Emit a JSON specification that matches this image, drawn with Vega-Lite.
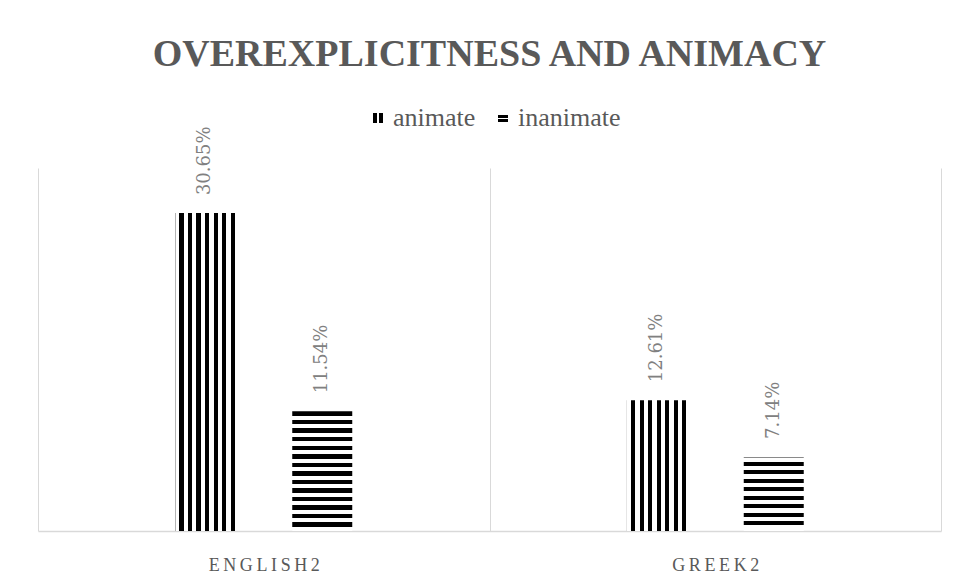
{
  "$schema": "https://vega.github.io/schema/vega-lite/v6.json",
  "width": 903,
  "height": 363,
  "autosize": {"type": "none"},
  "padding": {"left": 38, "top": 168, "right": 18, "bottom": 50},
  "background": "white",
  "config": {
    "view": {"stroke": null},
    "font": "Liberation Serif",
    "legend": {
      "title": null,
      "orient": "none",
      "direction": "horizontal",
      "symbolType": "square",
      "symbolSize": 100,
      "symbolStrokeWidth": 0,
      "labelFont": "Liberation Serif",
      "labelFontSize": 26,
      "labelColor": "#595959",
      "labelOffset": 2,
      "columnPadding": 14
    }
  },
  "title": {
    "text": "OVEREXPLICITNESS AND ANIMACY",
    "anchor": "middle",
    "frame": "group",
    "font": "Liberation Serif",
    "fontSize": 38,
    "fontWeight": "bold",
    "color": "#595959",
    "baseline": "alphabetic",
    "offset": 1
  },
  "data": {
    "values": [
      {"group": "English2", "type": "animate", "share": 0.3065},
      {"group": "English2", "type": "inanimate", "share": 0.1154},
      {"group": "Greek2", "type": "animate", "share": 0.1261},
      {"group": "Greek2", "type": "inanimate", "share": 0.0714}
    ]
  },
  "encoding": {
    "x": {
      "field": "group",
      "type": "nominal",
      "scale": {"domain": ["English2", "Greek2"], "paddingInner": 0, "paddingOuter": 0},
      "axis": {
        "title": null,
        "labelExpr": "join(split(upper(datum.label), ''), '\u2009')",
        "labelAngle": 0,
        "labelFont": "Liberation Serif",
        "labelFontSize": 18,
        "labelColor": "#595959",
        "labelPadding": 25,
        "ticks": false,
        "tickBand": "extent",
        "grid": true,
        "gridColor": "#d9d9d9",
        "gridWidth": 1,
        "domainColor": "#d9d9d9",
        "domainWidth": 1.5
      }
    },
    "xOffset": {
      "field": "type",
      "type": "nominal",
      "scale": {"domain": ["animate", "inanimate"], "paddingInner": 0.141, "paddingOuter": 1}
    },
    "y": {
      "field": "share",
      "type": "quantitative",
      "scale": {"domain": [0, 0.35]},
      "axis": null
    }
  },
  "layer": [
    {
      "transform": [{"filter": "datum.type === 'animate'"}],
      "mark": {"type": "bar", "width": 60},
      "encoding": {
        "fill": {
          "condition": {
            "test": "datum.group",
            "value": {
              "gradient": "linear", "x1": 0, "y1": 0, "x2": 1, "y2": 0,
              "stops": [
                {"offset": 0, "color": "#9a9a9a"}, {"offset": 0.012, "color": "#9a9a9a"},
                {"offset": 0.012, "color": "white"}, {"offset": 0.0667, "color": "white"},
                {"offset": 0.0667, "color": "black"}, {"offset": 0.1383, "color": "black"},
                {"offset": 0.1383, "color": "white"}, {"offset": 0.2167, "color": "white"},
                {"offset": 0.2167, "color": "black"}, {"offset": 0.2833, "color": "black"},
                {"offset": 0.2833, "color": "white"}, {"offset": 0.35, "color": "white"},
                {"offset": 0.35, "color": "black"}, {"offset": 0.4217, "color": "black"},
                {"offset": 0.4217, "color": "white"}, {"offset": 0.5, "color": "white"},
                {"offset": 0.5, "color": "black"}, {"offset": 0.5667, "color": "black"},
                {"offset": 0.5667, "color": "white"}, {"offset": 0.6383, "color": "white"},
                {"offset": 0.6383, "color": "black"}, {"offset": 0.705, "color": "black"},
                {"offset": 0.705, "color": "white"}, {"offset": 0.7833, "color": "white"},
                {"offset": 0.7833, "color": "black"}, {"offset": 0.85, "color": "black"},
                {"offset": 0.85, "color": "white"}, {"offset": 0.9217, "color": "white"},
                {"offset": 0.9217, "color": "black"}, {"offset": 0.9883, "color": "black"},
                {"offset": 0.9883, "color": "white"}, {"offset": 1, "color": "white"}
              ]
            }
          },
          "value": {
            "expr": "datum.value === 'inanimate' ? {gradient: 'linear', x1: 0, y1: 0, x2: 0, y2: 1, stops: [{offset: 0, color: 'white'}, {offset: 0.2, color: 'white'}, {offset: 0.2, color: 'black'}, {offset: 0.48, color: 'black'}, {offset: 0.48, color: 'white'}, {offset: 0.62, color: 'white'}, {offset: 0.62, color: 'black'}, {offset: 0.9, color: 'black'}, {offset: 0.9, color: 'white'}, {offset: 1, color: 'white'}]} : {gradient: 'linear', x1: 0, y1: 0, x2: 1, y2: 0, stops: [{offset: 0, color: 'black'}, {offset: 0.38, color: 'black'}, {offset: 0.38, color: 'white'}, {offset: 0.62, color: 'white'}, {offset: 0.62, color: 'black'}, {offset: 1, color: 'black'}]}"
          }
        },
        "opacity": {
          "field": "type",
          "type": "nominal",
          "scale": {"domain": ["animate", "inanimate"], "range": [1, 1]},
          "legend": {"legendX": 327, "legendY": -63}
        }
      }
    },
    {
      "transform": [{"filter": "datum.type === 'inanimate' && datum.group === 'English2'"}],
      "mark": {
        "type": "bar",
        "width": 60,
        "fill": {
          "gradient": "linear", "x1": 0, "y1": 0, "x2": 0, "y2": 1,
          "stops": [
            {"offset": 0, "color": "black"}, {"offset": 0.0371, "color": "black"},
            {"offset": 0.0371, "color": "white"}, {"offset": 0.0714, "color": "white"},
            {"offset": 0.0714, "color": "black"}, {"offset": 0.1086, "color": "black"},
            {"offset": 0.1086, "color": "white"}, {"offset": 0.1429, "color": "white"},
            {"offset": 0.1429, "color": "black"}, {"offset": 0.18, "color": "black"},
            {"offset": 0.18, "color": "white"}, {"offset": 0.2143, "color": "white"},
            {"offset": 0.2143, "color": "black"}, {"offset": 0.2514, "color": "black"},
            {"offset": 0.2514, "color": "white"}, {"offset": 0.2857, "color": "white"},
            {"offset": 0.2857, "color": "black"}, {"offset": 0.3229, "color": "black"},
            {"offset": 0.3229, "color": "white"}, {"offset": 0.3571, "color": "white"},
            {"offset": 0.3571, "color": "black"}, {"offset": 0.3943, "color": "black"},
            {"offset": 0.3943, "color": "white"}, {"offset": 0.4286, "color": "white"},
            {"offset": 0.4286, "color": "black"}, {"offset": 0.4657, "color": "black"},
            {"offset": 0.4657, "color": "white"}, {"offset": 0.5, "color": "white"},
            {"offset": 0.5, "color": "black"}, {"offset": 0.5371, "color": "black"},
            {"offset": 0.5371, "color": "white"}, {"offset": 0.5714, "color": "white"},
            {"offset": 0.5714, "color": "black"}, {"offset": 0.6086, "color": "black"},
            {"offset": 0.6086, "color": "white"}, {"offset": 0.6429, "color": "white"},
            {"offset": 0.6429, "color": "black"}, {"offset": 0.68, "color": "black"},
            {"offset": 0.68, "color": "white"}, {"offset": 0.7143, "color": "white"},
            {"offset": 0.7143, "color": "black"}, {"offset": 0.7514, "color": "black"},
            {"offset": 0.7514, "color": "white"}, {"offset": 0.7857, "color": "white"},
            {"offset": 0.7857, "color": "black"}, {"offset": 0.8229, "color": "black"},
            {"offset": 0.8229, "color": "white"}, {"offset": 0.8571, "color": "white"},
            {"offset": 0.8571, "color": "black"}, {"offset": 0.8943, "color": "black"},
            {"offset": 0.8943, "color": "white"}, {"offset": 0.9286, "color": "white"},
            {"offset": 0.9286, "color": "black"}, {"offset": 0.9657, "color": "black"},
            {"offset": 0.9657, "color": "white"}, {"offset": 1, "color": "white"}
          ]
        }
      }
    },
    {
      "transform": [{"filter": "datum.type === 'inanimate' && datum.group === 'Greek2'"}],
      "mark": {
        "type": "bar",
        "width": 60,
        "fill": {
          "gradient": "linear", "x1": 0, "y1": 0, "x2": 0, "y2": 1,
          "stops": [
            {"offset": 0, "color": "#8a8a8a"}, {"offset": 0.012, "color": "#8a8a8a"},
            {"offset": 0.012, "color": "white"}, {"offset": 0.0635, "color": "white"},
            {"offset": 0.0635, "color": "black"}, {"offset": 0.1216, "color": "black"},
            {"offset": 0.1216, "color": "white"}, {"offset": 0.178, "color": "white"},
            {"offset": 0.178, "color": "black"}, {"offset": 0.236, "color": "black"},
            {"offset": 0.236, "color": "white"}, {"offset": 0.2924, "color": "white"},
            {"offset": 0.2924, "color": "black"}, {"offset": 0.3505, "color": "black"},
            {"offset": 0.3505, "color": "white"}, {"offset": 0.4069, "color": "white"},
            {"offset": 0.4069, "color": "black"}, {"offset": 0.465, "color": "black"},
            {"offset": 0.465, "color": "white"}, {"offset": 0.5214, "color": "white"},
            {"offset": 0.5214, "color": "black"}, {"offset": 0.5795, "color": "black"},
            {"offset": 0.5795, "color": "white"}, {"offset": 0.6358, "color": "white"},
            {"offset": 0.6358, "color": "black"}, {"offset": 0.6939, "color": "black"},
            {"offset": 0.6939, "color": "white"}, {"offset": 0.7503, "color": "white"},
            {"offset": 0.7503, "color": "black"}, {"offset": 0.8084, "color": "black"},
            {"offset": 0.8084, "color": "white"}, {"offset": 0.8647, "color": "white"},
            {"offset": 0.8647, "color": "black"}, {"offset": 0.9228, "color": "black"},
            {"offset": 0.9228, "color": "white"}, {"offset": 1, "color": "white"}
          ]
        }
      }
    },
    {
      "mark": {
        "type": "text",
        "angle": 270,
        "align": "left",
        "baseline": "middle",
        "dx": 18,
        "font": "DejaVu Serif",
        "fontSize": 18,
        "color": "#808080"
      },
      "encoding": {
        "text": {"field": "share", "type": "quantitative", "format": ".2%"}
      }
    }
  ]
}
